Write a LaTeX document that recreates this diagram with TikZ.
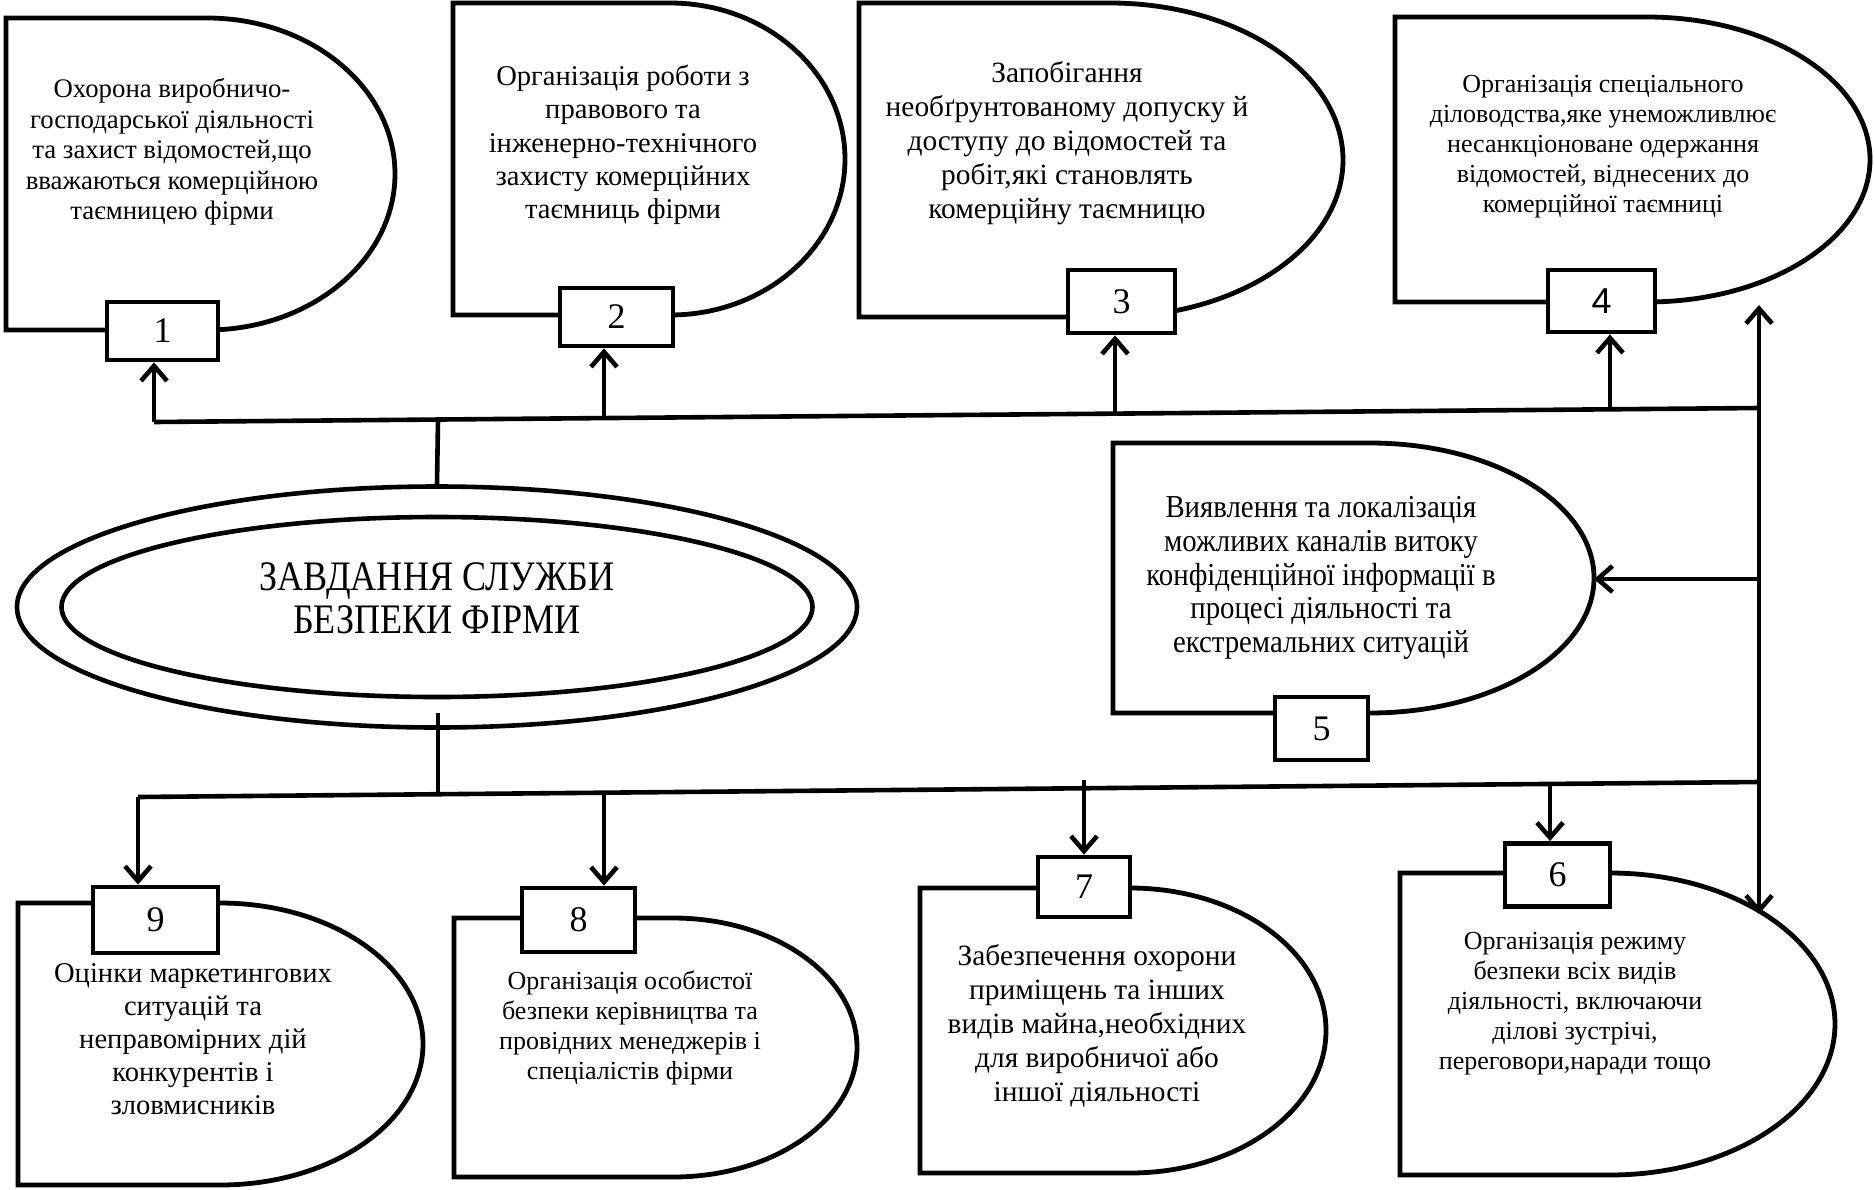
\documentclass[tikz,border=0pt]{standalone}
\usepackage{fontspec}
\setmainfont{Liberation Serif}
\newfontfamily\condfont[FakeStretch=0.9]{Liberation Serif}
\newfontfamily\titlefont[FakeStretch=0.86]{Liberation Serif}
\newfontfamily\sansdigit{Liberation Sans}
\usetikzlibrary{arrows.meta,shapes.geometric}

\tikzset{
  taskbox/.style={line width=2.4pt, line join=miter},
  numbox/.style={draw, line width=2.4pt, fill=white, inner sep=0pt,
    font=\fontsize{18}{20}\selectfont},
  conn/.style={line width=2.3pt},
  arr/.style={conn, -{Straight Barb[length=7.5pt,width=13pt]}},
  txt/.style={align=center, inner sep=0pt},
  ring/.style={ellipse, draw, line width=2.3pt, inner sep=0pt}
}
% left, top, straight end, bottom, x radius, y radius
\newcommand\delaybox[6]{%
  \draw[taskbox] (#1,#2) -- (#3,#2)
    arc[start angle=90, end angle=-90, x radius=#5, y radius=#6]
    -- (#1,#4) -- cycle;}

\begin{document}
\begin{tikzpicture}[x=0.5pt, y=-0.5pt]
\fill[white] (0,0) rectangle (1874,1189);
\useasboundingbox (0,0) rectangle (1874,1189);

% ---- task shapes ----
\delaybox{6}{18}{207}{330}{94pt}{78pt}
\delaybox{453}{3}{670}{315}{87.5pt}{78pt}
\delaybox{859}{3}{1110}{317}{116.5pt}{78.5pt}
\delaybox{1395}{17}{1647}{302}{111.5pt}{71.25pt}
\delaybox{1113}{443}{1370}{713}{112pt}{67.5pt}
\delaybox{1400}{873}{1610}{1175}{112.5pt}{75.5pt}
\delaybox{920}{888}{1130}{1173}{98pt}{71.25pt}
\delaybox{454}{918}{673}{1177}{92pt}{64.75pt}
\delaybox{18}{903}{220}{1185}{101.5pt}{70.5pt}

% ---- texts ----
\node[txt, font=\fontsize{13.4}{15.3}\selectfont] (x1) at (172,152)
 {Охорона виробничо-\\господарської діяльності\\та захист відомостей,що\\вважаються комерційною\\таємницею фірми};
\node[txt, font=\fontsize{14.3}{16.6}\selectfont] (x2) at (623,145)
 {Організація роботи з\\правового та\\інженерно-технічного\\захисту комерційних\\таємниць фірми};
\node[txt, font=\fontsize{14.7}{17}\selectfont] (x3) at (1067,143)
 {Запобігання\\необґрунтованому допуску й\\доступу до відомостей та\\робіт,які становлять\\комерційну таємницю};
\node[txt, font=\fontsize{13}{15}\selectfont] (x4) at (1603,147)
 {Організація спеціального\\діловодства,яке унеможливлює\\несанкціоноване одержання\\відомостей, віднесених до\\комерційної таємниці};
\node[txt, font=\condfont\fontsize{16}{16.8}\selectfont] (x5) at (1321,578)
 {Виявлення та локалізація\\можливих каналів витоку\\конфіденційної інформації в\\процесі діяльності та\\екстремальних ситуацій};
\node[txt, font=\fontsize{13}{15}\selectfont] (x6) at (1575,1004)
 {Організація режиму\\безпеки всіх видів\\діяльності, включаючи\\ділові зустрічі,\\переговори,наради тощо};
\node[txt, font=\fontsize{14.7}{17}\selectfont] (x7) at (1097,1026)
 {Забезпечення охорони\\приміщень та інших\\видів майна,необхідних\\для виробничої або\\іншої діяльності};
\node[txt, font=\fontsize{13}{15}\selectfont] (x8) at (630,1028)
 {Організація особистої\\безпеки керівництва та\\провідних менеджерів і\\спеціалістів фірми};
\node[txt, font=\fontsize{14.3}{16.5}\selectfont] (x9) at (193,1039)
 {Оцінки маркетингових\\ситуацій та\\неправомірних дій\\конкурентів і\\зловмисників};

% ---- number boxes ----
\node[numbox, minimum width=55.5pt, minimum height=29pt] (n1) at (162.5,331) {1};
\node[numbox, minimum width=56.5pt, minimum height=29pt] (n2) at (616.5,317) {2};
\node[numbox, minimum width=53.5pt, minimum height=31.5pt] (n3) at (1121.5,301.5) {3};
\node[numbox, minimum width=53.5pt, minimum height=31pt] (n4) at (1601.5,301) {\sansdigit 4};
\node[numbox, minimum width=46.5pt, minimum height=31.5pt] (n5) at (1321.5,728.5) {5};
\node[numbox, minimum width=52.5pt, minimum height=31.5pt] (n6) at (1557.5,875) {6};
\node[numbox, minimum width=46pt, minimum height=30pt] (n7) at (1084,887) {7};
\node[numbox, minimum width=56.5pt, minimum height=32pt] (n8) at (578.5,920) {8};
\node[numbox, minimum width=62.5pt, minimum height=33pt] (n9) at (155.5,920) {9};

% ---- central ellipse ----
\node[ring, minimum width=420pt, minimum height=120.5pt] (outer) at (437,607) {};
\node[ring, minimum width=375.5pt, minimum height=90pt] (inner) at (437,607) {};
\node[txt, font=\titlefont\fontsize{21}{21.5}\selectfont] (title) at (437,598)
 {ЗАВДАННЯ СЛУЖБИ\\БЕЗПЕКИ ФІРМИ};

% ---- top bus ----
\coordinate (tbL) at (154,422);
\coordinate (tbR) at (1759,408);
\coordinate (tstem) at (438,419.5);
\coordinate (t2) at (604,418);
\coordinate (t3) at (1115,413.6);
\coordinate (t4) at (1610,409.3);
\draw[conn] (tbL) -- (tbR);
\draw[conn] (tstem) -- (outer.north);
\draw[arr] (tbL) -- (tbL |- n1.south);
\draw[arr] (t2) -- (t2 |- n2.south);
\draw[arr] (t3) -- (t3 |- n3.south);
\draw[arr] (t4) -- (t4 |- n4.south);

% ---- right riser ----
\coordinate (rTop) at (1759,305);
\coordinate (rBot) at (1759,914);
\coordinate (r5) at (1759,579);
\coordinate (b5e) at (1594,579);
\draw[arr] (tbR) -- (rTop);
\draw[arr] (tbR) -- (rBot);
\draw[arr] (r5) -- (b5e);

% ---- bottom bus ----
\coordinate (bstem) at (438,713);
\coordinate (bbus) at (438,794.2);
\coordinate (bbL) at (138,797);
\coordinate (bbR) at (1759,782);
\coordinate (b8) at (604,792.7);
\coordinate (b7) at (1084,780);
\coordinate (b6) at (1550,783.9);
\draw[conn] (bstem) -- (bbus);
\draw[conn] (bbL) -- (bbR);
\draw[arr] (bbL) -- (bbL |- n9.north);
\draw[arr] (b8) -- (b8 |- n8.north);
\draw[arr] (b7) -- (b7 |- n7.north);
\draw[arr] (b6) -- (b6 |- n6.north);
\end{tikzpicture}
\end{document}
